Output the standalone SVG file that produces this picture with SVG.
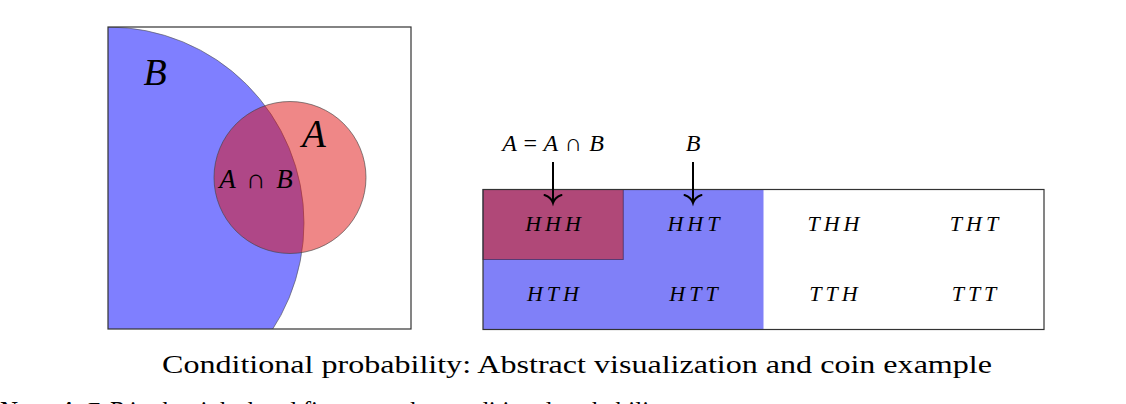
<svg xmlns="http://www.w3.org/2000/svg" width="1126" height="404" viewBox="0 0 1126 404">
<style>
  .m { font-family: "Liberation Serif", "DejaVu Serif", serif; font-style: italic; fill: #000; }
  .cell { font-family: "Liberation Serif", "DejaVu Serif", serif; font-style: italic; font-size: 22px; letter-spacing: 4px; text-anchor: middle; }
  .rm { font-family: "Liberation Serif", "DejaVu Serif", serif; fill: #000; }
  .frame { fill: none; stroke: #333; stroke-width: 1.2; }
  .arrow { stroke: #000; stroke-width: 2; fill: none; }
</style>
<defs>
  <clipPath id="boxclip"><rect x="108" y="27" width="303" height="302"/></clipPath>
  <marker id="arr" markerUnits="userSpaceOnUse" viewBox="-10 -10 12 20" markerWidth="12" markerHeight="20" refX="0" refY="0" orient="auto" overflow="visible">
    <path d="M-8,-8.5 C-6,-3 -2,-0.6 0,0 C-2,0.6 -6,3 -8,8.5" fill="none" stroke="#000" stroke-width="2" stroke-linecap="round"/>
  </marker>
</defs>
<rect width="1126" height="404" fill="#fff"/>

<g id="venn">
  <rect x="108" y="27" width="303" height="302" fill="#fff"/>
  <g clip-path="url(#boxclip)">
    <circle id="setB" cx="108" cy="223" r="196" fill="#0000ff" fill-opacity="0.5" stroke="#555" stroke-width="0.8" stroke-opacity="0.8"/>
    <circle id="setA" cx="290" cy="177.5" r="76" fill="#e01010" fill-opacity="0.5" stroke="#444" stroke-width="0.8" stroke-opacity="0.8"/>
  </g>
  <rect class="frame" x="108" y="27" width="303" height="302"/>
  <text class="m" x="155" y="85" font-size="38" text-anchor="middle">B</text>
  <text class="m" x="314" y="147" font-size="39" text-anchor="middle">A</text>
  <text class="m" x="256" y="188" font-size="27" text-anchor="middle" word-spacing="4">A <tspan font-style="normal">∩</tspan> B</text>
</g>

<g id="table">
  <rect id="regionB" x="483" y="189.5" width="280.5" height="140" fill="#8080f8"/>
  <rect id="regionA" x="483" y="189.5" width="140.25" height="70" fill="#b04878" stroke="#3a2a5a" stroke-width="1" stroke-opacity="0.7"/>
  <rect class="frame" x="483" y="189.5" width="561" height="140"/>
  <g id="cell-HHH"><text class="cell" x="555" y="231">HHH</text></g>
  <g id="cell-HHT"><text class="cell" x="695.5" y="231">HHT</text></g>
  <g id="cell-THH"><text class="cell" x="835.5" y="231">THH</text></g>
  <g id="cell-THT"><text class="cell" x="976" y="231">THT</text></g>
  <g id="cell-HTH"><text class="cell" x="555" y="301">HTH</text></g>
  <g id="cell-HTT"><text class="cell" x="695.5" y="301">HTT</text></g>
  <g id="cell-TTH"><text class="cell" x="835.5" y="301">TTH</text></g>
  <g id="cell-TTT"><text class="cell" x="976" y="301">TTT</text></g>
</g>

<g id="label-AeqAB"><text class="m" x="553" y="151" font-size="24" text-anchor="middle" word-spacing="1">A <tspan font-style="normal">=</tspan> A <tspan font-style="normal">∩</tspan> B</text></g>
<g id="label-B"><text class="m" x="693" y="151" font-size="24" text-anchor="middle">B</text></g>

<g id="connectors">
  <line class="arrow" x1="553" y1="162" x2="553" y2="203" marker-end="url(#arr)"/>
  <line class="arrow" x1="693" y1="162" x2="693" y2="203" marker-end="url(#arr)"/>
</g>

<g id="caption">
  <text class="rm" x="577" y="373" font-size="25" text-anchor="middle" textLength="830" lengthAdjust="spacingAndGlyphs">Conditional probability: Abstract visualization and coin example</text>
</g>
<g id="body-text">
  <text class="rm" x="0" y="419" font-size="25">Now, <tspan font-style="italic">A</tspan> ⊂ <tspan font-style="italic">B</tspan> in the right-hand figure, so the conditional probability</text>
</g>
</svg>
